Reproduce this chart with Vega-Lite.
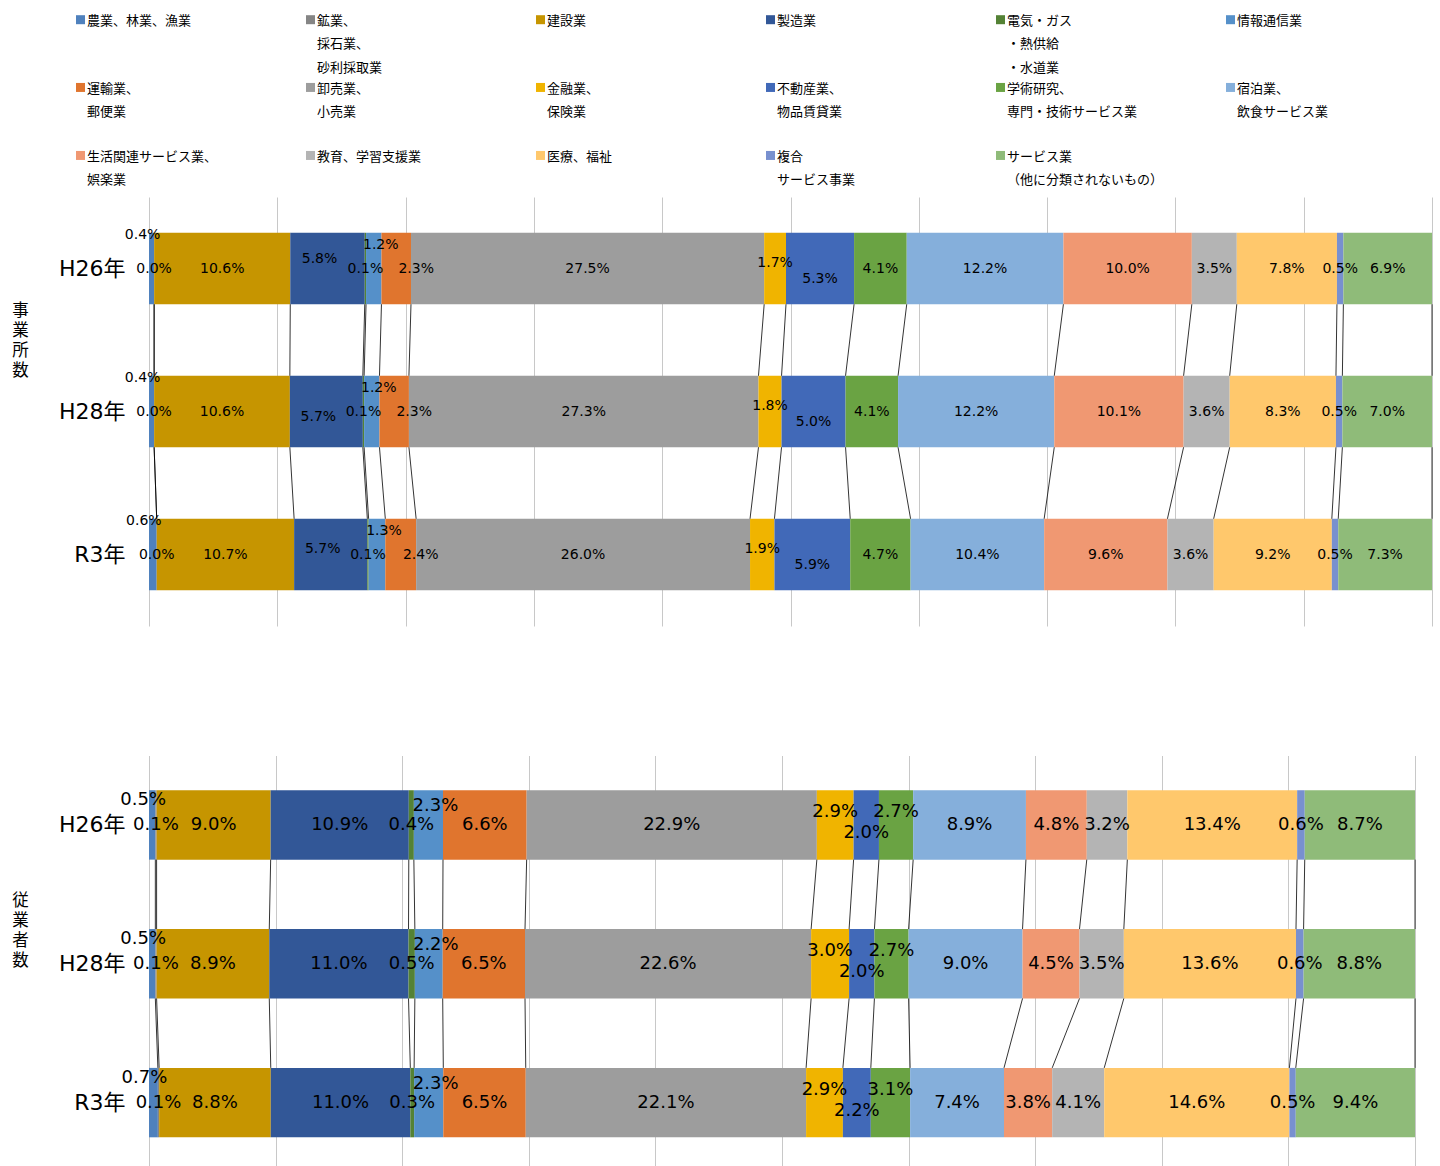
{
  "$schema": "https://vega.github.io/schema/vega-lite/v6.json",
  "padding": {"left": 11, "top": 8, "right": 0, "bottom": 0},
  "background": "white",
  "config": {"view": {"stroke": null}, "style": {"guide-label": {"lineHeight": 23.5}}, "font": "DejaVu Sans"},
  "datasets": {
    "cats": [
      {"order": 1, "cat": "農業、林業、漁業"},
      {"order": 2, "cat": "鉱業、採石業、砂利採取業"},
      {"order": 3, "cat": "建設業"},
      {"order": 4, "cat": "製造業"},
      {"order": 5, "cat": "電気・ガス・熱供給・水道業"},
      {"order": 6, "cat": "情報通信業"},
      {"order": 7, "cat": "運輸業、郵便業"},
      {"order": 8, "cat": "卸売業、小売業"},
      {"order": 9, "cat": "金融業、保険業"},
      {"order": 10, "cat": "不動産業、物品賃貸業"},
      {"order": 11, "cat": "学術研究、専門・技術サービス業"},
      {"order": 12, "cat": "宿泊業、飲食サービス業"},
      {"order": 13, "cat": "生活関連サービス業、娯楽業"},
      {"order": 14, "cat": "教育、学習支援業"},
      {"order": 15, "cat": "医療、福祉"},
      {"order": 16, "cat": "複合サービス事業"},
      {"order": 17, "cat": "サービス業（他に分類されないもの）"}
    ],
    "jigyosho": [
      {"year": "H26年", "order": 1, "share": 0.004}, {"year": "H26年", "order": 2, "share": 0.0}, {"year": "H26年", "order": 3, "share": 0.106}, {"year": "H26年", "order": 4, "share": 0.058}, {"year": "H26年", "order": 5, "share": 0.001}, {"year": "H26年", "order": 6, "share": 0.012}, {"year": "H26年", "order": 7, "share": 0.023}, {"year": "H26年", "order": 8, "share": 0.275}, {"year": "H26年", "order": 9, "share": 0.017}, {"year": "H26年", "order": 10, "share": 0.053}, {"year": "H26年", "order": 11, "share": 0.041}, {"year": "H26年", "order": 12, "share": 0.122}, {"year": "H26年", "order": 13, "share": 0.100}, {"year": "H26年", "order": 14, "share": 0.035}, {"year": "H26年", "order": 15, "share": 0.078}, {"year": "H26年", "order": 16, "share": 0.005}, {"year": "H26年", "order": 17, "share": 0.069},
      {"year": "H28年", "order": 1, "share": 0.004}, {"year": "H28年", "order": 2, "share": 0.0}, {"year": "H28年", "order": 3, "share": 0.106}, {"year": "H28年", "order": 4, "share": 0.057}, {"year": "H28年", "order": 5, "share": 0.001}, {"year": "H28年", "order": 6, "share": 0.012}, {"year": "H28年", "order": 7, "share": 0.023}, {"year": "H28年", "order": 8, "share": 0.273}, {"year": "H28年", "order": 9, "share": 0.018}, {"year": "H28年", "order": 10, "share": 0.050}, {"year": "H28年", "order": 11, "share": 0.041}, {"year": "H28年", "order": 12, "share": 0.122}, {"year": "H28年", "order": 13, "share": 0.101}, {"year": "H28年", "order": 14, "share": 0.036}, {"year": "H28年", "order": 15, "share": 0.083}, {"year": "H28年", "order": 16, "share": 0.005}, {"year": "H28年", "order": 17, "share": 0.070},
      {"year": "R3年", "order": 1, "share": 0.006}, {"year": "R3年", "order": 2, "share": 0.0}, {"year": "R3年", "order": 3, "share": 0.107}, {"year": "R3年", "order": 4, "share": 0.057}, {"year": "R3年", "order": 5, "share": 0.001}, {"year": "R3年", "order": 6, "share": 0.013}, {"year": "R3年", "order": 7, "share": 0.024}, {"year": "R3年", "order": 8, "share": 0.260}, {"year": "R3年", "order": 9, "share": 0.019}, {"year": "R3年", "order": 10, "share": 0.059}, {"year": "R3年", "order": 11, "share": 0.047}, {"year": "R3年", "order": 12, "share": 0.104}, {"year": "R3年", "order": 13, "share": 0.096}, {"year": "R3年", "order": 14, "share": 0.036}, {"year": "R3年", "order": 15, "share": 0.092}, {"year": "R3年", "order": 16, "share": 0.005}, {"year": "R3年", "order": 17, "share": 0.073}
    ],
    "jugyosha": [
      {"year": "H26年", "order": 1, "share": 0.005}, {"year": "H26年", "order": 2, "share": 0.001}, {"year": "H26年", "order": 3, "share": 0.090}, {"year": "H26年", "order": 4, "share": 0.109}, {"year": "H26年", "order": 5, "share": 0.004}, {"year": "H26年", "order": 6, "share": 0.023}, {"year": "H26年", "order": 7, "share": 0.066}, {"year": "H26年", "order": 8, "share": 0.229}, {"year": "H26年", "order": 9, "share": 0.029}, {"year": "H26年", "order": 10, "share": 0.020}, {"year": "H26年", "order": 11, "share": 0.027}, {"year": "H26年", "order": 12, "share": 0.089}, {"year": "H26年", "order": 13, "share": 0.048}, {"year": "H26年", "order": 14, "share": 0.032}, {"year": "H26年", "order": 15, "share": 0.134}, {"year": "H26年", "order": 16, "share": 0.006}, {"year": "H26年", "order": 17, "share": 0.087},
      {"year": "H28年", "order": 1, "share": 0.005}, {"year": "H28年", "order": 2, "share": 0.001}, {"year": "H28年", "order": 3, "share": 0.089}, {"year": "H28年", "order": 4, "share": 0.110}, {"year": "H28年", "order": 5, "share": 0.005}, {"year": "H28年", "order": 6, "share": 0.022}, {"year": "H28年", "order": 7, "share": 0.065}, {"year": "H28年", "order": 8, "share": 0.226}, {"year": "H28年", "order": 9, "share": 0.030}, {"year": "H28年", "order": 10, "share": 0.020}, {"year": "H28年", "order": 11, "share": 0.027}, {"year": "H28年", "order": 12, "share": 0.090}, {"year": "H28年", "order": 13, "share": 0.045}, {"year": "H28年", "order": 14, "share": 0.035}, {"year": "H28年", "order": 15, "share": 0.136}, {"year": "H28年", "order": 16, "share": 0.006}, {"year": "H28年", "order": 17, "share": 0.088},
      {"year": "R3年", "order": 1, "share": 0.007}, {"year": "R3年", "order": 2, "share": 0.001}, {"year": "R3年", "order": 3, "share": 0.088}, {"year": "R3年", "order": 4, "share": 0.110}, {"year": "R3年", "order": 5, "share": 0.003}, {"year": "R3年", "order": 6, "share": 0.023}, {"year": "R3年", "order": 7, "share": 0.065}, {"year": "R3年", "order": 8, "share": 0.221}, {"year": "R3年", "order": 9, "share": 0.029}, {"year": "R3年", "order": 10, "share": 0.022}, {"year": "R3年", "order": 11, "share": 0.031}, {"year": "R3年", "order": 12, "share": 0.074}, {"year": "R3年", "order": 13, "share": 0.038}, {"year": "R3年", "order": 14, "share": 0.041}, {"year": "R3年", "order": 15, "share": 0.146}, {"year": "R3年", "order": 16, "share": 0.005}, {"year": "R3年", "order": 17, "share": 0.094}
    ]
  },
  "resolve": {"legend": {"color": "independent"}},
  "spacing": 129.5,
  "vconcat": [
    {
      "width": 1283,
      "height": 429,
      "data": {"name": "jigyosho"},
      "transform": [{"lookup": "order", "from": {"data": {"name": "cats"}, "key": "order", "fields": ["cat"]}}],
      "encoding": {
        "y": {
          "field": "year", "type": "nominal", "sort": ["H26年", "H28年", "R3年"],
          "scale": {"paddingInner": 0.5, "paddingOuter": 0.25},
          "axis": {
            "title": ["事", "業", "所", "数"], "titleAngle": 0, "titleAlign": "center", "titleBaseline": "top",
            "titleX": -129, "titleY": 105, "titleFont": "Noto Sans CJK JP", "titleFontSize": 16.5, "titleFontWeight": "normal",
            "titleLineHeight": 20, "titleColor": "#000000",
            "labelFont": "DejaVu Sans, Noto Sans CJK JP", "labelFontSize": 22, "labelColor": "#000000", "labelPadding": 24,
            "ticks": false, "domain": false, "grid": false
          }
        }
      },
      "layer": [
        {
          "mark": {"type": "bar"},
          "encoding": {
            "x": {
              "field": "share", "type": "quantitative", "stack": "normalize", "title": null,
              "scale": {"domain": [0, 1], "nice": false},
              "axis": {"grid": true, "values": [0, 0.1, 0.2, 0.3, 0.4, 0.5, 0.6, 0.7, 0.8, 0.9, 1], "labels": false, "ticks": false, "domain": false, "title": null, "gridColor": "#C8C8C8", "gridWidth": 1}
            },
            "color": {
              "field": "cat", "type": "nominal",
              "scale": {
                "domain": ["農業、林業、漁業", "鉱業、採石業、砂利採取業", "建設業", "製造業", "電気・ガス・熱供給・水道業", "情報通信業", "運輸業、郵便業", "卸売業、小売業", "金融業、保険業", "不動産業、物品賃貸業", "学術研究、専門・技術サービス業", "宿泊業、飲食サービス業", "生活関連サービス業、娯楽業", "教育、学習支援業", "医療、福祉", "複合サービス事業", "サービス業（他に分類されないもの）"],
                "range": ["#4F81BD", "#858585", "#C69500", "#325797", "#548235", "#5590C9", "#E0752E", "#9D9D9D", "#F0B400", "#4169B8", "#6AA343", "#85AFDB", "#F09872", "#B4B4B4", "#FFC86C", "#7890CF", "#8FBB79"]
              },
              "legend": {
                "orient": "none", "legendX": -75, "legendY": -189, "columns": 6, "direction": "horizontal", "title": null,
                "symbolType": "M-1,0.1H1V2.1H-1Z", "symbolSize": 81, "symbolStrokeWidth": 0,
                "labelFont": "Noto Sans CJK JP", "labelFontSize": 13, "labelColor": "#000000", "labelOffset": 0, "labelLimit": 400,
                "labelBaseline": "top", "gridAlign": "all", "columnPadding": 60, "rowPadding": 1,
                "labelExpr": "datum.label === '鉱業、採石業、砂利採取業' ? ['鉱業、','採石業、','砂利採取業'] : datum.label === '電気・ガス・熱供給・水道業' ? ['電気・ガス','・熱供給','・水道業'] : datum.label === '運輸業、郵便業' ? ['運輸業、','郵便業',''] : datum.label === '卸売業、小売業' ? ['卸売業、','小売業',''] : datum.label === '金融業、保険業' ? ['金融業、','保険業',''] : datum.label === '不動産業、物品賃貸業' ? ['不動産業、','物品賃貸業',''] : datum.label === '学術研究、専門・技術サービス業' ? ['学術研究、','専門・技術サービス業',''] : datum.label === '宿泊業、飲食サービス業' ? ['宿泊業、','飲食サービス業',''] : datum.label === '生活関連サービス業、娯楽業' ? ['生活関連サービス業、','娯楽業',''] : datum.label === '複合サービス事業' ? ['複合','サービス事業',''] : datum.label === 'サービス業（他に分類されないもの）' ? ['サービス業','（他に分類されないもの）',''] : [datum.label,'','']"
              }
            },
            "order": {"field": "order", "type": "quantitative"}
          }
        },
        {
          "transform": [
            {"stack": "share", "groupby": ["year"], "sort": [{"field": "order", "order": "ascending"}], "as": ["x0", "x1"], "offset": "normalize"},
            {"pivot": "year", "value": "x1", "groupby": ["order"]}
          ],
          "layer": [
            {
              "mark": {"type": "rule", "color": "#000000", "strokeWidth": 0.8, "yOffset": 35.75, "y2Offset": -35.75},
              "encoding": {"x": {"field": "H26年", "type": "quantitative", "title": null}, "x2": {"field": "H28年"}, "y": {"datum": "H26年"}, "y2": {"datum": "H28年"}}
            },
            {
              "mark": {"type": "rule", "color": "#000000", "strokeWidth": 0.8, "yOffset": 35.75, "y2Offset": -35.75},
              "encoding": {"x": {"field": "H28年", "type": "quantitative", "title": null}, "x2": {"field": "R3年"}, "y": {"datum": "H28年"}, "y2": {"datum": "R3年"}}
            }
          ]
        },
        {
          "mark": {"type": "text", "font": "DejaVu Sans", "fontSize": 14, "color": "#000000"},
          "encoding": {
            "x": {"field": "share", "type": "quantitative", "stack": "normalize", "bandPosition": 0.5, "title": null},
            "detail": {"field": "cat"}, "order": {"field": "order", "type": "quantitative"},
            "text": {"condition": {"test": "indexof([1,4,6,7,9,10], datum.order) < 0", "field": "share", "type": "quantitative", "format": ".1%"}, "value": ""}
          }
        },
        {
          "mark": {"type": "text", "font": "DejaVu Sans", "fontSize": 14, "color": "#000000", "dx": -9, "dy": -34},
          "encoding": {
            "x": {"field": "share", "type": "quantitative", "stack": "normalize", "bandPosition": 0.5, "title": null},
            "detail": {"field": "cat"}, "order": {"field": "order", "type": "quantitative"},
            "text": {"condition": {"test": "datum.order === 1", "field": "share", "type": "quantitative", "format": ".1%"}, "value": ""}
          }
        },
        {
          "mark": {"type": "text", "font": "DejaVu Sans", "fontSize": 14, "color": "#000000", "dx": -8, "dy": -10},
          "encoding": {
            "x": {"field": "share", "type": "quantitative", "stack": "normalize", "bandPosition": 0.5, "title": null},
            "detail": {"field": "cat"}, "order": {"field": "order", "type": "quantitative"},
            "text": {"condition": {"test": "datum.order === 4 && datum.year === 'H26年'", "field": "share", "type": "quantitative", "format": ".1%"}, "value": ""}
          }
        },
        {
          "mark": {"type": "text", "font": "DejaVu Sans", "fontSize": 14, "color": "#000000", "dx": -8, "dy": 5},
          "encoding": {
            "x": {"field": "share", "type": "quantitative", "stack": "normalize", "bandPosition": 0.5, "title": null},
            "detail": {"field": "cat"}, "order": {"field": "order", "type": "quantitative"},
            "text": {"condition": {"test": "datum.order === 4 && datum.year === 'H28年'", "field": "share", "type": "quantitative", "format": ".1%"}, "value": ""}
          }
        },
        {
          "mark": {"type": "text", "font": "DejaVu Sans", "fontSize": 14, "color": "#000000", "dx": -8, "dy": -6},
          "encoding": {
            "x": {"field": "share", "type": "quantitative", "stack": "normalize", "bandPosition": 0.5, "title": null},
            "detail": {"field": "cat"}, "order": {"field": "order", "type": "quantitative"},
            "text": {"condition": {"test": "datum.order === 4 && datum.year === 'R3年'", "field": "share", "type": "quantitative", "format": ".1%"}, "value": ""}
          }
        },
        {
          "mark": {"type": "text", "font": "DejaVu Sans", "fontSize": 14, "color": "#000000", "dx": 7, "dy": -24},
          "encoding": {
            "x": {"field": "share", "type": "quantitative", "stack": "normalize", "bandPosition": 0.5, "title": null},
            "detail": {"field": "cat"}, "order": {"field": "order", "type": "quantitative"},
            "text": {"condition": {"test": "datum.order === 6", "field": "share", "type": "quantitative", "format": ".1%"}, "value": ""}
          }
        },
        {
          "mark": {"type": "text", "font": "DejaVu Sans", "fontSize": 14, "color": "#000000", "dx": 20},
          "encoding": {
            "x": {"field": "share", "type": "quantitative", "stack": "normalize", "bandPosition": 0.5, "title": null},
            "detail": {"field": "cat"}, "order": {"field": "order", "type": "quantitative"},
            "text": {"condition": {"test": "datum.order === 7", "field": "share", "type": "quantitative", "format": ".1%"}, "value": ""}
          }
        },
        {
          "mark": {"type": "text", "font": "DejaVu Sans", "fontSize": 14, "color": "#000000", "dy": -6},
          "encoding": {
            "x": {"field": "share", "type": "quantitative", "stack": "normalize", "bandPosition": 0.5, "title": null},
            "detail": {"field": "cat"}, "order": {"field": "order", "type": "quantitative"},
            "text": {"condition": {"test": "datum.order === 9", "field": "share", "type": "quantitative", "format": ".1%"}, "value": ""}
          }
        },
        {
          "mark": {"type": "text", "font": "DejaVu Sans", "fontSize": 14, "color": "#000000", "dy": 10},
          "encoding": {
            "x": {"field": "share", "type": "quantitative", "stack": "normalize", "bandPosition": 0.5, "title": null},
            "detail": {"field": "cat"}, "order": {"field": "order", "type": "quantitative"},
            "text": {"condition": {"test": "datum.order === 10", "field": "share", "type": "quantitative", "format": ".1%"}, "value": ""}
          }
        }
      ]
    },
    {
      "width": 1266,
      "height": 410,
      "data": {"name": "jugyosha"},
      "transform": [{"lookup": "order", "from": {"data": {"name": "cats"}, "key": "order", "fields": ["cat"]}}],
      "encoding": {
        "y": {
          "field": "year", "type": "nominal", "sort": ["H26年", "H28年", "R3年"],
          "scale": {"paddingInner": 0.5, "paddingOuter": 0.2266, "align": 0.552},
          "axis": {
            "title": ["従", "業", "者", "数"], "titleAngle": 0, "titleAlign": "center", "titleBaseline": "top",
            "titleX": -129, "titleY": 137, "titleFont": "Noto Sans CJK JP", "titleFontSize": 16.5, "titleFontWeight": "normal",
            "titleLineHeight": 20, "titleColor": "#000000",
            "labelFont": "DejaVu Sans, Noto Sans CJK JP", "labelFontSize": 22, "labelColor": "#000000", "labelPadding": 24,
            "ticks": false, "domain": false, "grid": false
          }
        }
      },
      "layer": [
        {
          "mark": {"type": "bar"},
          "encoding": {
            "x": {
              "field": "share", "type": "quantitative", "stack": "normalize", "title": null,
              "scale": {"domain": [0, 1], "nice": false},
              "axis": {"grid": true, "values": [0, 0.1, 0.2, 0.3, 0.4, 0.5, 0.6, 0.7, 0.8, 0.9, 1], "labels": false, "ticks": false, "domain": false, "title": null, "gridColor": "#C8C8C8", "gridWidth": 1}
            },
            "color": {"field": "cat", "type": "nominal", "legend": null},
            "order": {"field": "order", "type": "quantitative"}
          }
        },
        {
          "transform": [
            {"stack": "share", "groupby": ["year"], "sort": [{"field": "order", "order": "ascending"}], "as": ["x0", "x1"], "offset": "normalize"},
            {"pivot": "year", "value": "x1", "groupby": ["order"]}
          ],
          "layer": [
            {
              "mark": {"type": "rule", "color": "#000000", "strokeWidth": 0.8, "yOffset": 34.7, "y2Offset": -34.7},
              "encoding": {"x": {"field": "H26年", "type": "quantitative", "title": null}, "x2": {"field": "H28年"}, "y": {"datum": "H26年"}, "y2": {"datum": "H28年"}}
            },
            {
              "mark": {"type": "rule", "color": "#000000", "strokeWidth": 0.8, "yOffset": 34.7, "y2Offset": -34.7},
              "encoding": {"x": {"field": "H28年", "type": "quantitative", "title": null}, "x2": {"field": "R3年"}, "y": {"datum": "H28年"}, "y2": {"datum": "R3年"}}
            }
          ]
        },
        {
          "mark": {"type": "text", "font": "DejaVu Sans", "fontSize": 18, "color": "#000000"},
          "encoding": {
            "x": {"field": "share", "type": "quantitative", "stack": "normalize", "bandPosition": 0.5, "title": null},
            "detail": {"field": "cat"}, "order": {"field": "order", "type": "quantitative"},
            "text": {"condition": {"test": "indexof([1,6,9,10,11], datum.order) < 0", "field": "share", "type": "quantitative", "format": ".1%"}, "value": ""}
          }
        },
        {
          "mark": {"type": "text", "font": "DejaVu Sans", "fontSize": 18, "color": "#000000", "dx": -9, "dy": -25},
          "encoding": {
            "x": {"field": "share", "type": "quantitative", "stack": "normalize", "bandPosition": 0.5, "title": null},
            "detail": {"field": "cat"}, "order": {"field": "order", "type": "quantitative"},
            "text": {"condition": {"test": "datum.order === 1", "field": "share", "type": "quantitative", "format": ".1%"}, "value": ""}
          }
        },
        {
          "mark": {"type": "text", "font": "DejaVu Sans", "fontSize": 18, "color": "#000000", "dx": 7, "dy": -19},
          "encoding": {
            "x": {"field": "share", "type": "quantitative", "stack": "normalize", "bandPosition": 0.5, "title": null},
            "detail": {"field": "cat"}, "order": {"field": "order", "type": "quantitative"},
            "text": {"condition": {"test": "datum.order === 6", "field": "share", "type": "quantitative", "format": ".1%"}, "value": ""}
          }
        },
        {
          "mark": {"type": "text", "font": "DejaVu Sans", "fontSize": 18, "color": "#000000", "dy": -13},
          "encoding": {
            "x": {"field": "share", "type": "quantitative", "stack": "normalize", "bandPosition": 0.5, "title": null},
            "detail": {"field": "cat"}, "order": {"field": "order", "type": "quantitative"},
            "text": {"condition": {"test": "datum.order === 9 || datum.order === 11", "field": "share", "type": "quantitative", "format": ".1%"}, "value": ""}
          }
        },
        {
          "mark": {"type": "text", "font": "DejaVu Sans", "fontSize": 18, "color": "#000000", "dy": 8},
          "encoding": {
            "x": {"field": "share", "type": "quantitative", "stack": "normalize", "bandPosition": 0.5, "title": null},
            "detail": {"field": "cat"}, "order": {"field": "order", "type": "quantitative"},
            "text": {"condition": {"test": "datum.order === 10", "field": "share", "type": "quantitative", "format": ".1%"}, "value": ""}
          }
        }
      ]
    }
  ]
}
